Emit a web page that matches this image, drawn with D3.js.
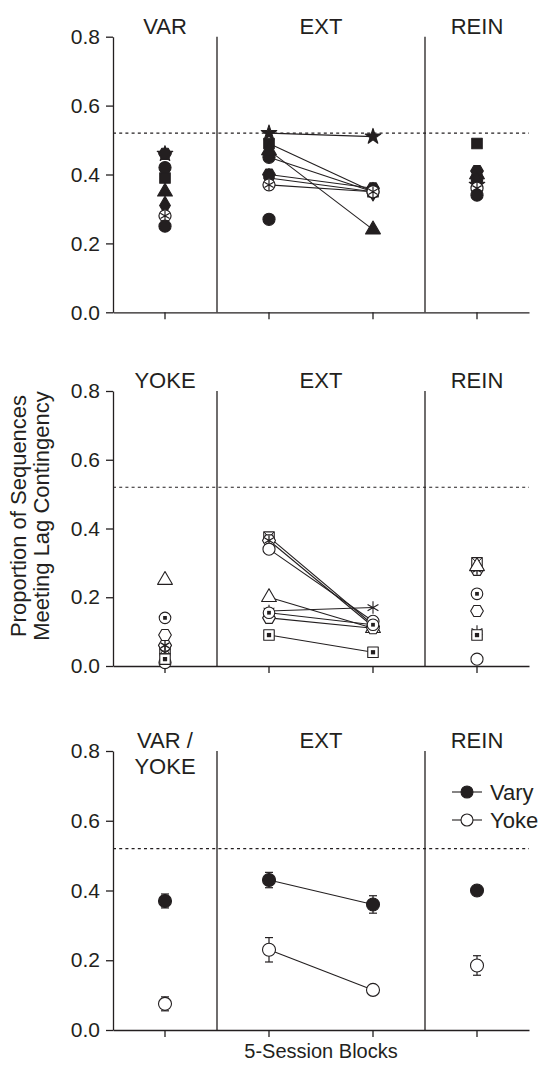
<!DOCTYPE html>
<html>
<head>
<meta charset="utf-8">
<script src="https://cdn.jsdelivr.net/npm/d3@7"></script>
<style>
  body { margin: 0; background: #fff; }
  svg text { font-family: "Liberation Sans", Arial, Helvetica, sans-serif; fill: #231f20; }
</style>
</head>
<body>
<svg id="chart" width="549" height="1065"></svg>
<script>
// ---- data ----
const phases = ["P1", "EXT1", "EXT2", "REIN"];
const yTicks = [0, 0.2, 0.4, 0.6, 0.8];
const lagCriterion = 0.52;

// top panel: Vary subjects (filled markers)
const varyMarkers = ["circle", "square", "triangle", "star", "hexagon", "diamond", "circleHatch", "circle"];
const varyVAR  = [0.42, 0.39, 0.35, 0.46, 0.46, 0.31, 0.28, 0.25];
const varyEXT1 = [0.45, 0.49, 0.47, 0.52, 0.40, 0.39, 0.37, 0.27];
const varyEXT2 = [0.35, 0.35, 0.24, 0.51, 0.36, 0.35, 0.35, null];
const varyREIN = [0.39, 0.49, 0.40, 0.37, 0.41, 0.38, 0.36, 0.34];

// middle panel: Yoke subjects (open markers)
const yokeMarkers = ["squareX", "hexStar", "circle", "triangle", "asterisk", "hexagon", "circleDot", "squareDot"];
const yokeYOKE = [0.05, 0.06, 0.01, 0.25, 0.04, 0.09, 0.14, 0.02];
const yokeEXT1 = [0.375, 0.365, 0.34, 0.20, 0.16, 0.14, 0.155, 0.09];
const yokeEXT2 = [0.12, 0.115, 0.13, 0.11, 0.17, 0.11, 0.12, 0.04];
const yokeREIN = [0.30, 0.28, 0.02, 0.29, 0.10, 0.16, 0.21, 0.09];

// bottom panel: group means and error bars
const groups = ["Vary", "Yoke"];
const meanVary = [0.37, 0.43, 0.36, 0.40];
const errVary  = [0.02, 0.022, 0.025, 0.005];
const meanYoke = [0.075, 0.23, 0.115, 0.185];
const errYoke  = [0.02, 0.035, 0.006, 0.028];

// ---- layout ----
const svg = d3.select("#chart");
const ink = "#231f20";
const x = d3.scaleBand().domain(phases).range([113, 529]).padding(0);
const cx = p => x(p) + x.bandwidth() / 2;

const panels = [
    { top: 36.7, bottom: 312.3, titles: [["VAR"], ["EXT"], ["REIN"]] },
    { top: 391, bottom: 666, titles: [["YOKE"], ["EXT"], ["REIN"]] },
    { top: 751, bottom: 1030, titles: [["VAR /", "YOKE"], ["EXT"], ["REIN"]] }
];

const hexagon = {
    draw(ctx, size) {
        const r = Math.sqrt(size / (1.5 * Math.sqrt(3)));
        for (let i = 0; i < 6; i++) {
            const a = Math.PI / 3 * i;
            const px = r * Math.cos(a), py = r * Math.sin(a);
            if (i === 0) ctx.moveTo(px, py); else ctx.lineTo(px, py);
        }
        ctx.closePath();
    }
};

const sym = (type, size) => d3.symbol().type(type).size(size)();

function drawMarker(g, type, filled) {
    const fill = filled ? ink : "#fff";
    const shape = d => g.append("path").attr("d", d)
        .attr("fill", fill).attr("stroke", ink).attr("stroke-width", 1.1)
        .attr("stroke-linejoin", "round");
    switch (type) {
        case "circle": shape(sym(d3.symbolCircle, 115)); break;
        case "square": shape(sym(d3.symbolSquare, 110)); break;
        case "triangle": shape(sym(d3.symbolTriangle, 95)); break;
        case "star": shape(sym(d3.symbolStar, 75)); break;
        case "hexagon": shape(sym(hexagon, 105)); break;
        case "diamond": shape(sym(d3.symbolDiamond, 100)); break;
        case "circleHatch":
            g.append("path").attr("d", sym(d3.symbolCircle, 115)).attr("fill", "#fff")
                .attr("stroke", ink).attr("stroke-width", 1.2);
            g.append("path").attr("d", sym(d3.symbolAsterisk, 80)).attr("fill", "none")
                .attr("stroke", ink).attr("stroke-width", 1.2);
            break;
        case "squareX":
            shape(sym(d3.symbolSquare, 110));
            g.append("path").attr("d", sym(d3.symbolTimes, 70)).attr("fill", "none").attr("stroke", ink);
            break;
        case "hexStar":
            shape(sym(hexagon, 110));
            g.append("path").attr("d", sym(d3.symbolAsterisk, 70)).attr("fill", "none").attr("stroke", ink).attr("stroke-width", 1.3);
            break;
        case "asterisk":
            g.append("path").attr("d", sym(d3.symbolAsterisk, 110)).attr("fill", "none").attr("stroke", ink).attr("stroke-width", 1.1);
            break;
        case "circleDot":
            shape(sym(d3.symbolCircle, 105));
            g.append("path").attr("d", sym(d3.symbolSquare, 14)).attr("fill", ink);
            break;
        case "squareDot":
            shape(sym(d3.symbolSquare, 110));
            g.append("path").attr("d", sym(d3.symbolSquare, 18)).attr("fill", ink);
            break;
    }
}

function drawPanel(p) {
    const y = d3.scaleLinear().domain([0, 0.8]).range([p.bottom, p.top]);
    const g = svg.append("g");

    // dashed lag criterion
    g.append("line")
        .attr("x1", x.range()[0]).attr("x2", x.range()[1])
        .attr("y1", y(lagCriterion)).attr("y2", y(lagCriterion))
        .attr("stroke", ink).attr("stroke-width", 1.1).attr("stroke-dasharray", "3,3.2");

    // phase separators
    [x("EXT1"), x("REIN")].forEach(sx => {
        g.append("line")
            .attr("x1", sx).attr("x2", sx)
            .attr("y1", y(0.8)).attr("y2", y(0))
            .attr("stroke", ink).attr("stroke-width", 1.3);
    });

    const yAxis = g.append("g")
        .attr("transform", `translate(${x.range()[0]},0)`)
        .call(d3.axisLeft(y).tickValues(yTicks).tickFormat(d3.format(".1f"))
            .tickSize(7).tickSizeOuter(0).tickPadding(6));
    const xAxis = g.append("g")
        .attr("transform", `translate(0,${p.bottom})`)
        .call(d3.axisBottom(x).tickFormat("").tickSize(7).tickSizeOuter(0));
    [yAxis, xAxis].forEach(a => {
        a.attr("font-size", 21).attr("font-family", null);
        a.selectAll("path, line").attr("stroke", ink).attr("stroke-width", 1.3);
        a.selectAll("text").attr("fill", ink);
    });

    // phase titles
    const titleX = [cx("P1"), x("EXT2"), cx("REIN")];
    p.titles.forEach((lines, i) => {
        lines.forEach((t, j) => {
            g.append("text")
                .attr("x", titleX[i]).attr("y", y(0.8) - 3 + j * 26)
                .attr("text-anchor", "middle").attr("font-size", 22)
                .text(t);
        });
    });
    return { g, y };
}

function drawSubjects(panel, markers, first, ext1, ext2, rein, filled) {
    const { g, y } = panel;
    const lines = g.append("g");
    markers.forEach((m, i) => {
        if (ext1[i] != null && ext2[i] != null) {
            lines.append("line")
                .attr("x1", cx("EXT1")).attr("y1", y(ext1[i]))
                .attr("x2", cx("EXT2")).attr("y2", y(ext2[i]))
                .attr("stroke", ink).attr("stroke-width", 1.1);
        }
    });
    const cols = [["P1", first], ["EXT1", ext1], ["EXT2", ext2], ["REIN", rein]];
    cols.forEach(([ph, vals]) => {
        vals.forEach((v, i) => {
            if (v == null) return;
            const mg = g.append("g").attr("transform", `translate(${cx(ph)},${y(v)})`);
            drawMarker(mg, markers[i], filled);
        });
    });
}

const topPanel = drawPanel(panels[0]);
drawSubjects(topPanel, varyMarkers, varyVAR, varyEXT1, varyEXT2, varyREIN, true);

const midPanel = drawPanel(panels[1]);
drawSubjects(midPanel, yokeMarkers, yokeYOKE, yokeEXT1, yokeEXT2, yokeREIN, false);

// bottom: means
const botPanel = drawPanel(panels[2]);
const series = [
    { name: groups[0], mean: meanVary, err: errVary, filled: true },
    { name: groups[1], mean: meanYoke, err: errYoke, filled: false }
];
series.forEach(s => {
    botPanel.g.append("line")
        .attr("x1", cx("EXT1")).attr("y1", botPanel.y(s.mean[1]))
        .attr("x2", cx("EXT2")).attr("y2", botPanel.y(s.mean[2]))
        .attr("stroke", ink).attr("stroke-width", 1.1);
    phases.forEach((ph, i) => {
        const m = s.mean[i], e = s.err[i];
        const eg = botPanel.g.append("g").attr("stroke", ink).attr("stroke-width", 1.2);
        eg.append("line").attr("x1", cx(ph)).attr("x2", cx(ph))
            .attr("y1", botPanel.y(m - e)).attr("y2", botPanel.y(m + e));
        [m - e, m + e].forEach(v => eg.append("line")
            .attr("x1", cx(ph) - 4).attr("x2", cx(ph) + 4)
            .attr("y1", botPanel.y(v)).attr("y2", botPanel.y(v)));
        botPanel.g.append("circle")
            .attr("cx", cx(ph)).attr("cy", botPanel.y(m)).attr("r", 6.5)
            .attr("fill", s.filled ? ink : "#fff")
            .attr("stroke", ink).attr("stroke-width", 1.1);
    });
});

// legend
const legend = botPanel.g.append("g");
series.forEach((s, i) => {
    const ly = 792 + i * 28;
    legend.append("line").attr("x1", 452).attr("x2", 482).attr("y1", ly).attr("y2", ly)
        .attr("stroke", ink).attr("stroke-width", 1.1);
    legend.append("circle").attr("cx", 467).attr("cy", ly).attr("r", 6)
        .attr("fill", s.filled ? ink : "#fff").attr("stroke", ink).attr("stroke-width", 1.1);
    legend.append("text").attr("x", 490).attr("y", ly).attr("dy", "0.36em")
        .attr("font-size", 22).text(s.name);
});

// axis titles
svg.append("text")
    .attr("x", (x.range()[0] + x.range()[1]) / 2).attr("y", 1058)
    .attr("text-anchor", "middle").attr("font-size", 20)
    .text("5-Session Blocks");

const yLab = svg.append("text")
    .attr("transform", "translate(26,516) rotate(-90)")
    .attr("text-anchor", "middle").attr("font-size", 22);
yLab.append("tspan").attr("x", 0).attr("dy", 0).text("Proportion of Sequences");
yLab.append("tspan").attr("x", 0).attr("dy", 23).text("Meeting Lag Contingency");
</script>
</body>
</html>
